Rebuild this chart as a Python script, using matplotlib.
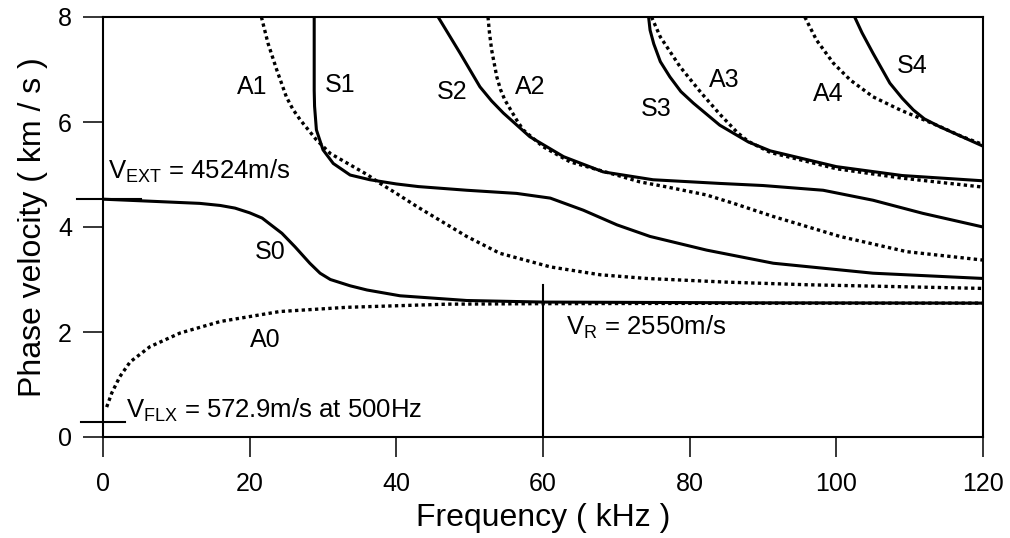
import matplotlib
matplotlib.use('Agg')
import matplotlib.pyplot as plt

# ---------------- data (frequency kHz, phase velocity km/s) ----------------
S0_f = [0, 5, 13.2, 16, 18, 20, 21.7, 23.0, 24.4, 26.2, 28.2, 29.6, 31.0, 33.7, 36, 40.5, 49.6, 60, 90, 120]
S0_v = [4.53, 4.50, 4.45, 4.41, 4.36, 4.27, 4.17, 4.03, 3.88, 3.62, 3.31, 3.12, 3.0, 2.88, 2.80, 2.69, 2.60, 2.57, 2.555, 2.55]

A0_f = [0.5, 1.2, 2.3, 3.7, 6.4, 10.5, 16, 24.1, 33.2, 46.9, 60, 90, 120]
A0_v = [0.57, 0.84, 1.15, 1.43, 1.72, 1.98, 2.20, 2.39, 2.47, 2.53, 2.54, 2.548, 2.55]

S1_f = [28.8, 28.8, 28.85, 29.1, 30.0, 31.4, 33.7, 36.4, 40.0, 43.0, 49.6, 56.4, 61.0, 65.5, 70.1, 74.6, 82.3, 91.4, 105, 120]
S1_v = [8.0, 6.6, 6.3, 5.85, 5.47, 5.21, 4.99, 4.90, 4.82, 4.77, 4.70, 4.64, 4.55, 4.32, 4.04, 3.82, 3.56, 3.31, 3.12, 3.02]

A1_f = [21.6, 22.5, 23.7, 25.0, 25.9, 26.9, 29.1, 31.0, 33.5, 36.0, 37.8, 40.0, 42.8, 49.6, 54.1, 61.0, 67.8, 74.1, 85, 96, 120]
A1_v = [8.0, 7.5, 6.99, 6.48, 6.24, 6.04, 5.66, 5.40, 5.20, 5.00, 4.83, 4.64, 4.39, 3.82, 3.50, 3.24, 3.09, 3.02, 2.95, 2.90, 2.83]

S2_f = [45.7, 48.7, 51.4, 53.0, 54.6, 58.2, 62.8, 68.2, 75.0, 84.1, 90, 98.2, 105, 111.8, 120]
S2_v = [8.0, 7.31, 6.67, 6.40, 6.17, 5.72, 5.34, 5.05, 4.90, 4.83, 4.79, 4.70, 4.51, 4.26, 4.0]

A2_f = [52.5, 52.7, 53.0, 53.7, 54.2, 54.8, 56.4, 57.3, 60, 63.7, 70.5, 73.2, 77, 82.3, 86, 91.4, 100.5, 109.6, 120]
A2_v = [8.0, 7.7, 7.37, 6.86, 6.62, 6.42, 6.04, 5.85, 5.53, 5.24, 4.97, 4.86, 4.76, 4.61, 4.45, 4.20, 3.82, 3.53, 3.37]

S3_f = [74.4, 74.6, 75.1, 76.0, 77.3, 78.8, 80.5, 84.1, 88, 91, 100, 109, 120]
S3_v = [8.0, 7.75, 7.49, 7.15, 6.86, 6.58, 6.36, 5.94, 5.62, 5.45, 5.15, 4.98, 4.88]

A3_f = [74.8, 76.0, 78.7, 81.6, 84.1, 86.5, 88, 91, 100, 109, 120]
A3_v = [8.0, 7.62, 7.05, 6.55, 6.15, 5.80, 5.63, 5.42, 5.11, 4.93, 4.76]

S4_f = [102.5, 103.5, 105, 107.3, 109, 110.5, 112, 114.1, 120]
S4_v = [8.0, 7.70, 7.31, 6.74, 6.45, 6.23, 6.06, 5.91, 5.54]

A4_f = [95.7, 97.3, 99.6, 101.9, 105, 108.7, 112.3, 114.5, 117, 120]
A4_v = [8.0, 7.56, 7.12, 6.80, 6.48, 6.23, 6.02, 5.89, 5.73, 5.57]

solid_modes = [(S0_f, S0_v), (S1_f, S1_v), (S2_f, S2_v), (S3_f, S3_v), (S4_f, S4_v)]
dotted_modes = [(A0_f, A0_v), (A1_f, A1_v), (A2_f, A2_v), (A3_f, A3_v), (A4_f, A4_v)]

mode_labels = ['A1', 'S1', 'S2', 'A2', 'S3', 'A3', 'A4', 'S4', 'S0', 'A0']
label_f = [20.3, 32.3, 47.6, 58.2, 75.5, 84.7, 98.9, 110.3, 22.8, 22.1]
label_v = [6.67, 6.70, 6.57, 6.67, 6.25, 6.80, 6.53, 7.07, 3.52, 1.85]

V_EXT = 4.524   # km/s
V_FLX_mark = 0.29
V_R_line_top = 2.9
V_R_freq = 60

x_ticks = [0, 20, 40, 60, 80, 100, 120]
y_ticks = [0, 2, 4, 6, 8]

# ---------------- style ----------------
plt.rcParams['font.family'] = ['Liberation Sans', 'DejaVu Sans']
plt.rcParams['mathtext.fontset'] = 'custom'
plt.rcParams['mathtext.rm'] = 'Liberation Sans'
plt.rcParams['mathtext.it'] = 'Liberation Sans:italic'
plt.rcParams['mathtext.bf'] = 'Liberation Sans:bold'

fig = plt.figure(figsize=(10.1, 5.38), dpi=100)
ax = fig.add_axes([103 / 1010, 1 - 437 / 538, 880 / 1010, 420 / 538])

for f, v in solid_modes:
    ax.plot(f, v, color='black', lw=2.2, solid_capstyle='butt', solid_joinstyle='round')
for f, v in dotted_modes:
    ax.plot(f, v, color='black', lw=2.4, linestyle=(0, (1.0, 1.0)), dash_capstyle='butt')

# markers
ax.plot([V_R_freq, V_R_freq], [0, V_R_line_top], color='black', lw=1.5)
ax.plot([-3.5, 5.2], [V_EXT, V_EXT], color='black', lw=1.5, clip_on=False)
ax.plot([-3.0, 3.0], [V_FLX_mark, V_FLX_mark], color='black', lw=1.5, clip_on=False)

for lab, f, v in zip(mode_labels, label_f, label_v):
    ax.text(f, v, lab, fontsize=18, ha='center', va='center')

ax.text(0.7, 5.05, r'V$_{\mathrm{EXT}}$ = 4524m/s', fontsize=18.5, ha='left', va='center')
ax.text(63.1, 2.08, r'V$_{\mathrm{R}}$ = 2550m/s', fontsize=18.5, ha='left', va='center')
ax.text(3.1, 0.5, r'V$_{\mathrm{FLX}}$ = 572.9m/s at 500Hz', fontsize=18.5, ha='left', va='center')

ax.set_xlim(0, 120)
ax.set_ylim(0, 8)
ax.set_xticks(x_ticks)
ax.set_yticks(y_ticks)
ax.tick_params(axis='both', direction='out', length=14.4, width=1.1, labelsize=18, top=False, right=False)
ax.tick_params(axis='x', pad=11)
ax.tick_params(axis='y', pad=8)
for s in ax.spines.values():
    s.set_linewidth(1.5)

ax.set_xlabel('Frequency ( kHz )', fontsize=23, labelpad=5)
ax.set_ylabel('Phase velocity ( km / s )', fontsize=23, labelpad=7)

fig.savefig('out.png', dpi=100)
